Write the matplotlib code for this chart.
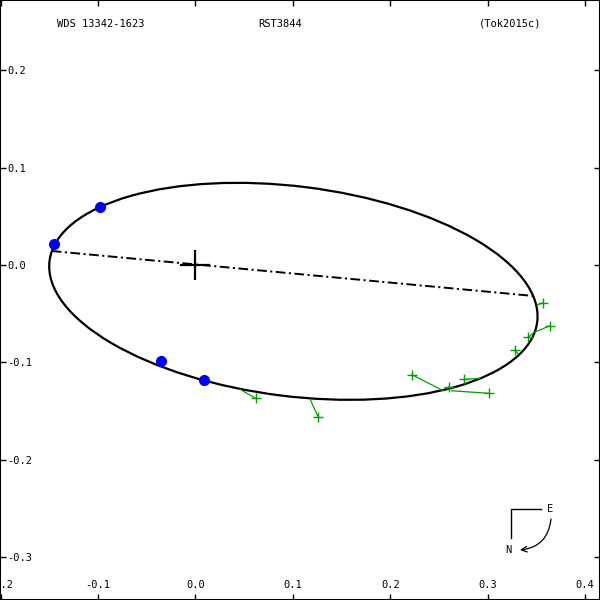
import matplotlib
matplotlib.use("Agg")
import matplotlib.pyplot as plt
from matplotlib.patches import Ellipse
import numpy as np

plt.rcParams['font.family'] = ['DejaVu Sans Mono']
plt.rcParams['lines.scale_dashes'] = False

# apparent orbit (center x, center y, full width, full height, angle deg)
orbit_center = (0.1005, -0.027)
orbit_width = 0.5046
orbit_height = 0.2154
orbit_angle = -7.16

# line of nodes endpoints
node_x = [-0.1476, 0.3475]
node_y = [0.0144, -0.0318]

# blue measures (on the orbit)
blue_x = [-0.0980, -0.1450, -0.0354, 0.0090]
blue_y = [0.0599, 0.0213, -0.0983, -0.1181]

# green measures: observed and computed positions
obs_x = [0.0618, 0.1258, 0.2223, 0.2603, 0.2757, 0.3016, 0.3280, 0.3417, 0.3640, 0.3571]
obs_y = [-0.1369, -0.1557, -0.1126, -0.1249, -0.1174, -0.1317, -0.0873, -0.0742, -0.0623, -0.0387]
calc_x = [0.0457, 0.1176, 0.2544, 0.2582, 0.2921, 0.2630, 0.3314, 0.3455, 0.3468, 0.3509]
calc_y = [-0.1276, -0.1376, -0.1291, -0.1273, -0.1163, -0.1291, -0.0914, -0.0708, -0.0695, -0.0411]

xticks = [-0.2, -0.1, 0.0, 0.1, 0.2, 0.3, 0.4]
yticks = [-0.3, -0.2, -0.1, 0.0, 0.1, 0.2]

fig = plt.figure(figsize=(6, 6), dpi=100)
ax = fig.add_axes([0, 0, 1, 1])
ax.set_xlim(-0.2007, 0.4153)
ax.set_ylim(-0.3439, 0.2721)

ax.add_patch(Ellipse(orbit_center, orbit_width, orbit_height, angle=orbit_angle,
                     fill=False, ec='black', lw=1.6))
ax.plot(node_x, node_y, color='black', lw=1.4, dashes=(7, 2.5, 1.5, 2.5))

for ox, oy, cx, cy in zip(obs_x, obs_y, calc_x, calc_y):
    ax.plot([ox, cx], [oy, cy], color='#00a000', lw=0.9)
ax.plot(obs_x, obs_y, '+', color='#00a000', ms=7, mew=1.0, ls='none')

ax.plot(blue_x, blue_y, 'o', color='#0000ff', ms=7, ls='none')
ax.plot([0], [0], '+', color='black', ms=22, mew=1.6)

ax.set_xticks(xticks)
ax.set_yticks(yticks)
ax.set_xticklabels(['%.1f' % v for v in xticks])
ax.set_yticklabels(['%.1f' % v for v in yticks])
ax.tick_params(direction='in', length=4, width=1, top=True, right=True,
               labelsize=7.5, colors='black')
ax.tick_params(axis='x', pad=-11)
ax.tick_params(axis='y', pad=-5)
for lbl in ax.get_xticklabels():
    lbl.set_verticalalignment('center')
for lbl in ax.get_yticklabels():
    lbl.set_horizontalalignment('left')
for s in ax.spines.values():
    s.set_linewidth(1.5)

ax.text(101 / 600, 1 - 24 / 600, 'WDS 13342-1623', transform=ax.transAxes,
        ha='center', va='center', fontsize=7.5)
ax.text(280 / 600, 1 - 24 / 600, 'RST3844', transform=ax.transAxes,
        ha='center', va='center', fontsize=7.5)
ax.text(510 / 600, 1 - 24 / 600, '(Tok2015c)', transform=ax.transAxes,
        ha='center', va='center', fontsize=7.5)

# compass
def fr(px, py):
    return (px / 600, 1 - py / 600)

ax.plot(*zip(fr(541, 509), fr(511, 509), fr(511, 538)), transform=ax.transAxes,
        color='black', lw=1)
ax.text(*fr(550, 509), 'E', transform=ax.transAxes, ha='center', va='center', fontsize=7.5)
ax.text(*fr(508, 550), 'N', transform=ax.transAxes, ha='center', va='center', fontsize=7.5)
ax.annotate('', xy=fr(520, 550), xytext=fr(551, 519), xycoords='axes fraction',
            textcoords='axes fraction',
            arrowprops=dict(arrowstyle='->', color='black', lw=0.9,
                            connectionstyle='arc3,rad=-0.4', shrinkA=0, shrinkB=0))

fig.savefig('out.png', dpi=100)
